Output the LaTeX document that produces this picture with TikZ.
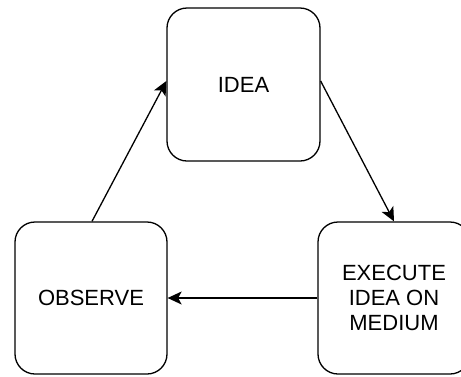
\documentclass[tikz,border=0pt]{standalone}
\usepackage{fontspec}
\setmainfont{Liberation Sans}
\usetikzlibrary{arrows.meta}
\begin{document}
\begin{tikzpicture}[x=1pt,y=-1pt,
  box/.style={draw, line width=1.3pt, rounded corners=20pt, inner sep=0pt,
    minimum width=#1, minimum height=152pt, align=center,
    font=\fontsize{22}{25}\selectfont},
  box/.default=152pt,
  arr/.style={line width=1.3pt, -{Stealth[length=14pt,width=13pt,inset=3.5pt]}}]
\useasboundingbox (0,0) rectangle (461,376);
\node[box=153pt, minimum height=153pt] (idea) at (243.5,84.5) {IDEA};
\node[box] (obs) at (91,298) {OBSERVE};
\node[box] (exe) at (394,298) {EXECUTE\\IDEA ON\\MEDIUM};
\draw[arr] ([xshift=1pt]obs.north) -- ([yshift=3.5pt]idea.west);
\draw[arr] ([yshift=3.5pt]idea.east) -- (exe.north);
\draw[arr] (exe.west) -- (obs.east);
\end{tikzpicture}
\end{document}
